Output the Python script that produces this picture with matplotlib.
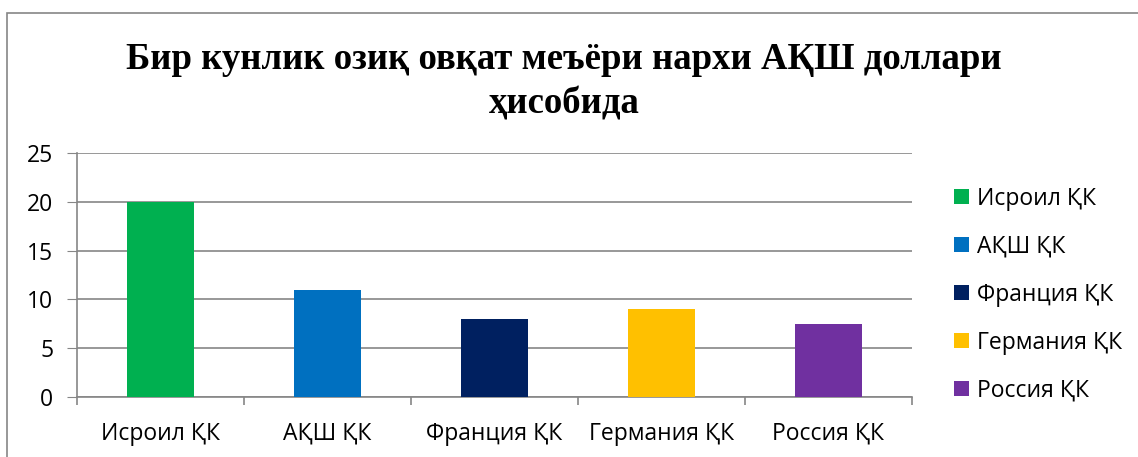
import matplotlib
matplotlib.use("Agg")
import matplotlib.pyplot as plt
from matplotlib.patches import Rectangle, Patch

categories = ["Исроил ҚК", "АҚШ ҚК", "Франция ҚК", "Германия ҚК", "Россия ҚК"]
values = [20, 11, 8, 9, 7.5]
colors = ["#00B050", "#0070C0", "#002060", "#FFC000", "#7030A0"]
yticks = [0, 5, 10, 15, 20, 25]
title = "Бир кунлик озиқ овқат меъёри нархи АҚШ доллари\nҳисобида"

W, H = 1138, 457
fig = plt.figure(figsize=(W / 100, H / 100), dpi=100)
fig.patch.set_facecolor("white")

# outer chart frame
fig.add_artist(Rectangle((7 / W, -0.1), 1.2, 1 - 13 / H + 0.1, transform=fig.transFigure,
                         fill=False, edgecolor="#868686", linewidth=1.2))

ax = fig.add_axes([77 / W, 1 - 397 / H, (912 - 77) / W, (397 - 153) / H])
x = list(range(len(categories)))
ax.bar(x, values, width=0.4, color=colors, zorder=3)
ax.set_xlim(-0.5, len(categories) - 0.5)
ax.set_ylim(0, 25)
ax.set_yticks(yticks)
ax.set_yticklabels([str(v) for v in yticks], fontsize=16.5, family="Open Sans")
ax.set_xticks(x)
ax.set_xticklabels(categories, fontsize=16.5, family="Open Sans")
ax.tick_params(axis="x", length=0, pad=18)
ax.tick_params(axis="y", length=7, color="#868686", pad=10)
# category boundary ticks
ax.set_xticks([i - 0.5 for i in range(len(categories) + 1)], minor=True)
ax.tick_params(axis="x", which="minor", length=6, color="#868686", width=1.2)
ax.grid(axis="y", color="#868686", linewidth=1.2, zorder=0)
for s in ["top", "right"]:
    ax.spines[s].set_visible(False)
for s in ["left", "bottom"]:
    ax.spines[s].set_color("#868686")
    ax.spines[s].set_linewidth(1.2)

fig.text(564 / W, 1 - 82 / H, title, ha="center", va="center", fontsize=26.5,
         family="Liberation Serif", fontweight="bold", linespacing=1.35)

handles = [Patch(facecolor=c, edgecolor="none") for c in colors]
leg = fig.legend(handles, categories, loc="upper left", bbox_to_anchor=(933 / W, 1 - 166 / H),
                 frameon=False, prop={"family": "Open Sans", "size": 16.5},
                 handlelength=0.65, handleheight=0.65, handletextpad=0.35, labelspacing=1.05)

fig.savefig("out.png", dpi=100)
